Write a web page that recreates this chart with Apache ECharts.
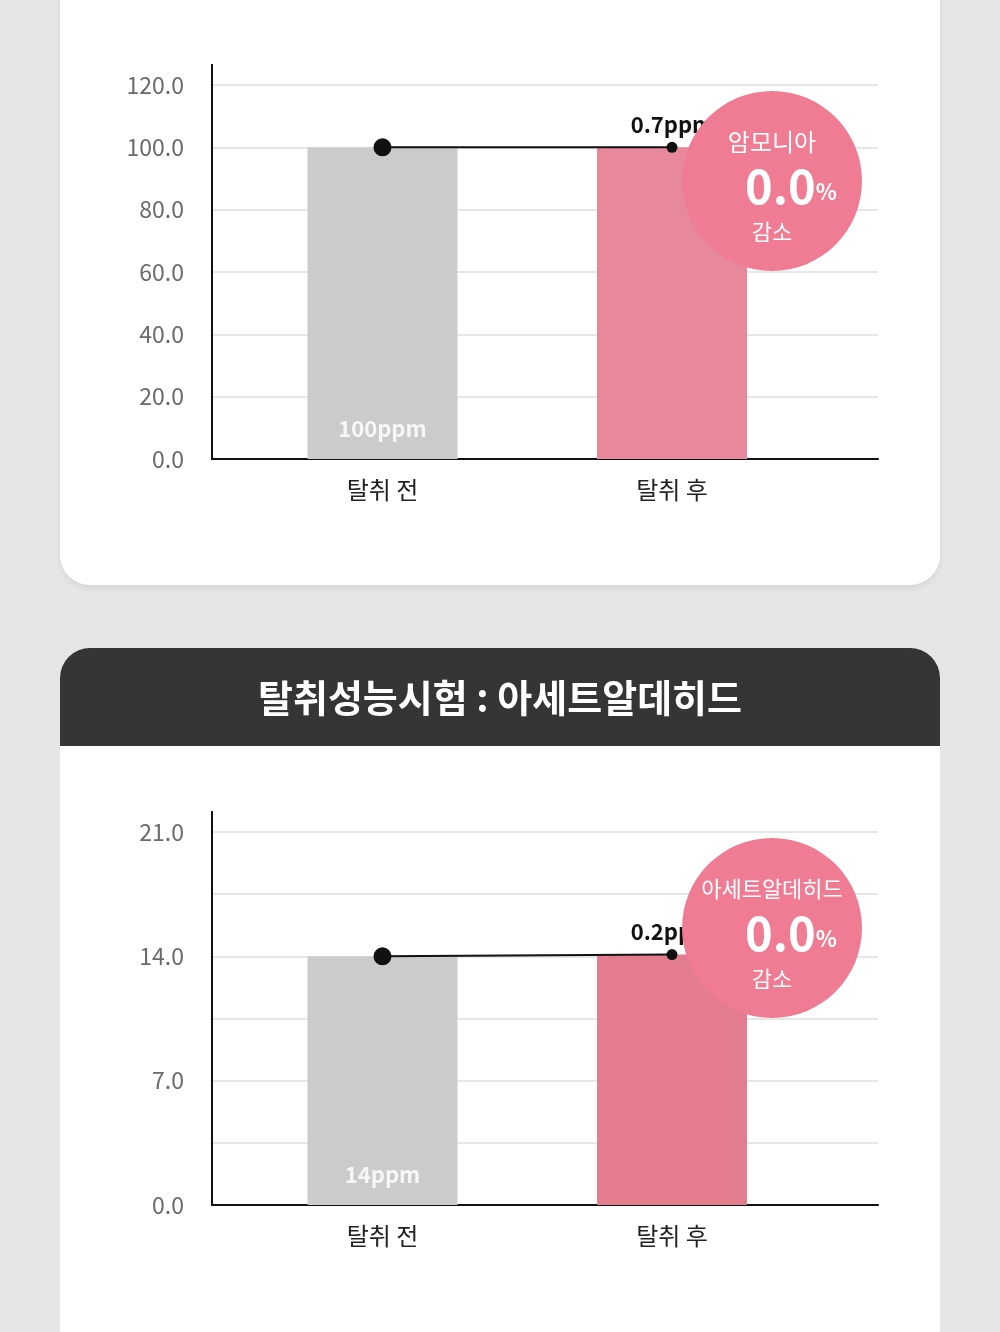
<!DOCTYPE html>
<html>
<head>
<meta charset="utf-8">
<script src="https://cdn.jsdelivr.net/npm/echarts@6/dist/echarts.min.js"></script>
<style>
  html, body { margin: 0; padding: 0; background: #e6e6e6; }
  .page { position: relative; width: 1000px; height: 1332px; overflow: hidden; background: #e6e6e6; }
  .card1 { position: absolute; left: 60px; top: -40px; width: 880px; height: 625px; background: #fff;
           border-radius: 30px; box-shadow: 0 3px 6px rgba(0,0,0,0.08); }
  .card2 { position: absolute; left: 60px; top: 648px; width: 880px; height: 740px; background: #fff;
           border-radius: 30px; overflow: hidden; }
  .card2 .head { height: 98px; background: #353535; }
  #chart { position: absolute; left: 0; top: 0; width: 1000px; height: 1332px; }
</style>
</head>
<body>
<div class="page">
  <div class="card1"></div>
  <div class="card2"><div class="head"></div></div>
  <div id="chart"></div>
</div>
<script>
// 데이터
const categories = ['탈취 전', '탈취 후'];

const ammoniaBars = [100, 100];
const ammoniaLine = [100, 100];
const ammoniaLabels = ['100ppm', '0.7ppm'];
const ammoniaAxis = { min: 0, max: 120, interval: 20 };

const acetBars = [14, 14.1];
const acetLine = [14, 14.1];
const acetLabels = ['14ppm', '0.2ppm'];
const acetAxis = { min: 0, max: 21, interval: 3.5, labelStep: 7 };

const titleText = '탈취성능시험 : 아세트알데히드';
const badge1 = { name: '암모니아', value: '0.0', unit: '%', sub: '감소' };
const badge2 = { name: '아세트알데히드', value: '0.0', unit: '%', sub: '감소' };

const FONT = '"Noto Sans CJK KR", "Noto Sans", sans-serif';
const GRAY = '#cbcbcb';

function axisGrid(top, height) {
  return [
    { left: 212, right: 122, top: top, height: height },       // 눈금/축
    { left: 237.75, width: 579, top: top, height: height }     // 막대
  ];
}

function barSeries(xi, values, labels, pink) {
  return {
    type: 'bar',
    xAxisIndex: xi, yAxisIndex: xi,
    barWidth: 150,
    z: 2,
    data: values.map((v, i) => ({
      value: v,
      itemStyle: { color: i === 0 ? GRAY : pink },
      label: i === 0 ? {
        show: true, position: 'insideBottom', distance: 19,
        formatter: labels[0], color: 'rgba(255,255,255,0.85)',
        fontSize: 22, fontWeight: 'bold', fontFamily: FONT
      } : { show: false }
    }))
  };
}

function lineSeries(xi, values, labels) {
  return {
    type: 'line',
    xAxisIndex: xi, yAxisIndex: xi,
    z: 5,
    symbol: 'circle',
    lineStyle: { color: '#111', width: 2 },
    itemStyle: { color: '#111' },
    data: values.map((v, i) => ({
      value: v,
      symbolSize: i === 0 ? 18 : 11,
      label: i === 1 ? {
        show: true, position: 'top', distance: 6, formatter: labels[1],
        color: '#111', fontSize: 22, fontWeight: 'bold', fontFamily: FONT
      } : { show: false }
    }))
  };
}

function axes(ax, step) {
  const fmt = v => (step ? (Math.abs(v / step - Math.round(v / step)) < 1e-6 ? v.toFixed(1) : '') : v.toFixed(1));
  return {
    x: [
      { type: 'category', data: categories, axisLine: { show: true, lineStyle: { color: '#111', width: 2 } },
        axisTick: { show: false }, axisLabel: { show: false } },
      { type: 'category', data: categories, axisLine: { show: false }, axisTick: { show: false },
        axisLabel: { color: '#222', fontSize: 24, margin: 19, fontFamily: FONT } }
    ],
    y: [
      { type: 'value', min: ax.min, max: ax.max, interval: ax.interval,
        axisLine: { show: true, lineStyle: { color: '#111', width: 2 } }, axisTick: { show: false },
        axisLabel: { color: '#6a6a6a', fontSize: 23, margin: 28, formatter: fmt, fontFamily: FONT },
        splitLine: { lineStyle: { color: '#e6e6e6', width: 2 } } },
      { type: 'value', min: ax.min, max: ax.max, show: false, splitLine: { show: false } }
    ]
  };
}

function badge(cx, cy, b, color) {
  return [
    { type: 'circle', z: 100, shape: { cx: cx, cy: cy, r: 90 }, style: { fill: color } },
    { type: 'text', z: 101, x: cx, y: cy - 39, style: { text: b.name, fill: '#fff', fontSize: b.name.length > 4 ? 22 : 24,
      fontFamily: FONT, align: 'center', verticalAlign: 'middle' } },
    { type: 'text', z: 101, x: cx + 19, y: cy + 5, style: {
      text: '{a|' + b.value + '}{b|' + b.unit + '}', align: 'center', verticalAlign: 'middle',
      rich: {
        a: { fill: '#fff', fontSize: 47, fontWeight: 'bold', fontFamily: FONT },
        b: { fill: '#fff', fontSize: 22, fontWeight: 'bold', fontFamily: FONT, padding: [12, 0, 0, 0] }
      } } },
    { type: 'text', z: 101, x: cx, y: cy + 51, style: { text: b.sub, fill: '#fff', fontSize: 22,
      fontFamily: FONT, align: 'center', verticalAlign: 'middle' } }
  ];
}

const a1 = axes(ammoniaAxis, null);
const a2 = axes(acetAxis, acetAxis.labelStep);

const chart = echarts.init(document.getElementById('chart'));
chart.setOption({
  animation: false,
  title: {
    text: titleText, left: 'center', top: 674,
    textStyle: { color: '#fff', fontSize: 38, fontWeight: 'bold', fontFamily: FONT }
  },
  grid: axisGrid(85, 374).concat(axisGrid(832, 373)),
  xAxis: a1.x.map((a, i) => Object.assign(a, { gridIndex: i }))
    .concat(a2.x.map((a, i) => Object.assign(a, { gridIndex: i + 2 }))),
  yAxis: a1.y.map((a, i) => Object.assign(a, { gridIndex: i }))
    .concat(a2.y.map((a, i) => Object.assign(a, { gridIndex: i + 2 }))),
  series: [
    barSeries(1, ammoniaBars, ammoniaLabels, '#e7899b'),
    lineSeries(1, ammoniaLine, ammoniaLabels),
    barSeries(3, acetBars, acetLabels, '#e47c90'),
    lineSeries(3, acetLine, acetLabels)
  ],
  graphic: [
    // y축 선이 맨 위 눈금보다 조금 더 올라감
    { type: 'line', z: 10, shape: { x1: 212, y1: 64, x2: 212, y2: 86 }, style: { stroke: '#111', lineWidth: 2 } },
    { type: 'line', z: 10, shape: { x1: 212, y1: 811, x2: 212, y2: 833 }, style: { stroke: '#111', lineWidth: 2 } }
  ].concat(badge(772, 181, badge1, '#f07c93'), badge(772, 928, badge2, '#f07c93'))
});
</script>
</body>
</html>
